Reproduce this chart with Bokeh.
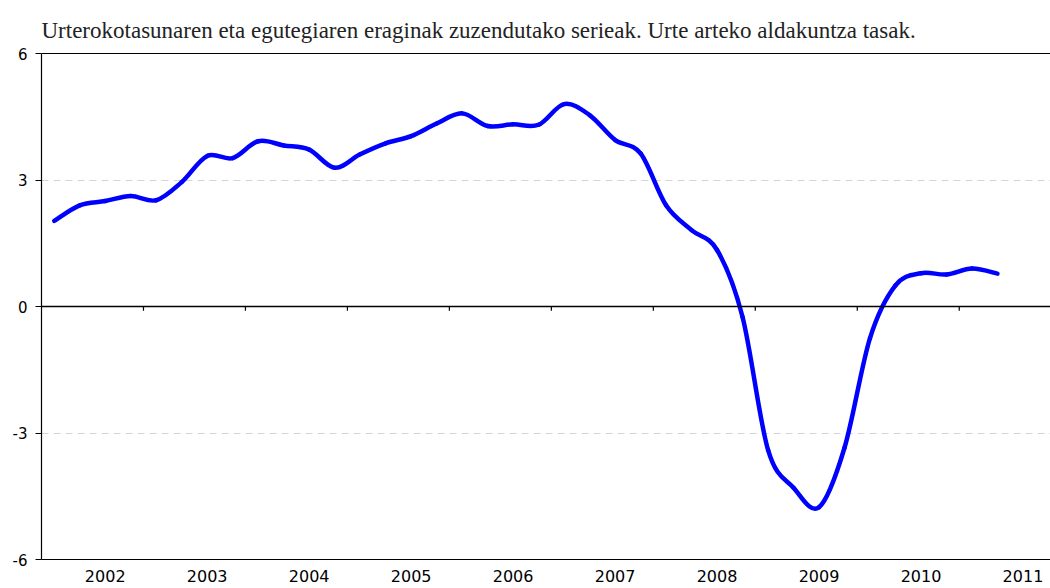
from bokeh.plotting import figure
from bokeh.models import FixedTicker, LinearAxis, Span, Range1d
from bokeh.embed import file_html
from bokeh.resources import INLINE

# ---- data ----
title_text = "Urterokotasunaren eta egutegiaren eraginak zuzendutako serieak. Urte arteko aldakuntza tasak."
years = ["2002", "2003", "2004", "2005", "2006", "2007", "2008", "2009", "2010", "2011"]
values = [2.03, 2.40, 2.50, 2.62, 2.52, 2.95, 3.57, 3.52, 3.92, 3.82,
          3.72, 3.29, 3.61, 3.87, 4.04, 4.34, 4.58, 4.28, 4.32, 4.31,
          4.80, 4.54, 3.95, 3.63, 2.40, 1.81, 1.34, -0.25, -3.40, -4.30,
          -4.76, -3.35, -0.75, 0.50, 0.79, 0.76, 0.90, 0.78]
y_ticks = [-6, -3, 0, 3, 6]
y_tick_labels = ["-6", "-3", "0", "3", "6"]
grid_ticks = [-3, 3]

n = len(values)
xs = list(range(n))
label_pos = [2 + 4 * k for k in range(len(years))]
boundaries = [p + 1.5 for p in label_pos[:-1]]

p = figure(width=1050, height=588, output_backend="svg", toolbar_location=None,
           x_range=Range1d(-0.5, 39.08), y_range=Range1d(-6, 6),
           min_border_left=41, min_border_right=0, min_border_top=53, min_border_bottom=29)
p.outline_line_color = None
p.background_fill_color = "white"

p.title.text = title_text
p.title.text_font = "Liberation Serif"
p.title.text_font_style = "normal"
p.title.text_font_size = "23px"
p.title.text_color = "#222222"
p.title.align = "left"
p.title.offset = 0
p.title.standoff = 22

# y axis
p.yaxis.ticker = FixedTicker(ticks=y_ticks)
p.yaxis.major_label_overrides = {t: s for t, s in zip(y_ticks, y_tick_labels)}
p.yaxis.major_label_text_font = "DejaVu Sans"
p.yaxis.major_label_text_font_size = "15px"
p.yaxis.major_label_text_color = "black"
p.yaxis.major_tick_out = 6
p.yaxis.major_tick_in = 0
p.yaxis.minor_tick_line_color = None
p.yaxis.major_label_standoff = 8
p.yaxis.axis_line_color = "black"
p.yaxis.axis_line_width = 1.2

# x axis: year labels at the category of each year, no tick marks
p.xaxis.ticker = FixedTicker(ticks=label_pos)
p.xaxis.major_label_overrides = {pos: yr for pos, yr in zip(label_pos, years)}
p.xaxis.major_label_text_font = "DejaVu Sans"
p.xaxis.major_label_text_font_size = "16px"
p.xaxis.major_label_text_color = "black"
p.xaxis.major_label_standoff = 10
p.xaxis.major_tick_line_color = None
p.xaxis.minor_tick_line_color = None
p.xaxis.major_tick_out = 0
p.xaxis.major_tick_in = 0
p.xaxis.axis_line_color = "black"
p.xaxis.axis_line_width = 1.2

# top line
top = LinearAxis(ticker=FixedTicker(ticks=[]), major_tick_out=0, major_tick_in=0,
                 minor_tick_out=0, major_label_text_font_size="0px",
                 major_label_standoff=0, axis_line_color="black", axis_line_width=1.2)
p.add_layout(top, "above")

# grid
p.xgrid.grid_line_color = None
p.ygrid.ticker = FixedTicker(ticks=grid_ticks)
p.ygrid.grid_line_color = "#d4d4d4"
p.ygrid.grid_line_dash = "7 5"
p.ygrid.grid_line_width = 1.2

# zero line and year ticks on it
p.add_layout(Span(location=0, dimension="width", line_color="black", line_width=1.5))
p.segment(x0=boundaries, y0=[0] * len(boundaries), x1=boundaries,
          y1=[-0.1] * len(boundaries), line_color="black", line_width=1.2)

# smoothed line (Catmull-Rom -> cubic Bezier through the data points)
x0, y0, x1, y1, cx0, cy0, cx1, cy1 = [], [], [], [], [], [], [], []
for i in range(n - 1):
    xm, ym = xs[max(i - 1, 0)], values[max(i - 1, 0)]
    xa, ya = xs[i], values[i]
    xb, yb = xs[i + 1], values[i + 1]
    xp, yp = xs[min(i + 2, n - 1)], values[min(i + 2, n - 1)]
    x0.append(xa); y0.append(ya); x1.append(xb); y1.append(yb)
    cx0.append(xa + (xb - xm) / 6.0); cy0.append(ya + (yb - ym) / 6.0)
    cx1.append(xb - (xp - xa) / 6.0); cy1.append(yb - (yp - ya) / 6.0)
p.bezier(x0=x0, y0=y0, x1=x1, y1=y1, cx0=cx0, cy0=cy0, cx1=cx1, cy1=cy1,
         line_color="#0000ff", line_width=4.5, line_cap="round")

open("out.html", "w").write(file_html(p, INLINE))
